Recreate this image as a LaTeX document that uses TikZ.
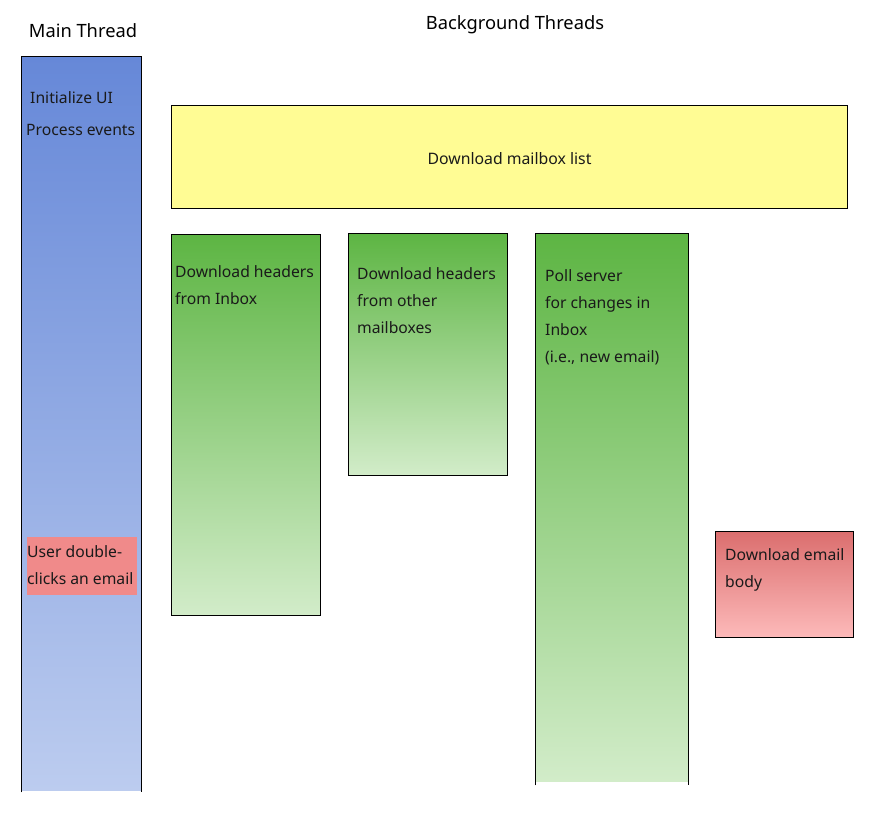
\documentclass[tikz,border=0pt]{standalone}
\usepackage{fontspec}
\setmainfont{Noto Sans}
\usepackage{xcolor}
\usetikzlibrary{positioning,calc}
\definecolor{mainTop}{HTML}{6688D8}
\definecolor{mainBot}{HTML}{BCCCEF}
\definecolor{workTop}{HTML}{5DB543}
\definecolor{workBot}{HTML}{D2ECC9}
\definecolor{listFill}{HTML}{FFFC94}
\definecolor{bodyTop}{HTML}{DB6E6E}
\definecolor{bodyBot}{HTML}{FDBABA}
\definecolor{clickFill}{HTML}{F08A8A}
\definecolor{ink}{HTML}{1A1A1A}
\tikzset{
  lane/.style={draw=none, inner sep=0pt, anchor=north west},
  box/.style={draw=black, line width=1pt, inner sep=0pt, anchor=north west},
  edge/.style={draw=black, line width=1pt},
  txt/.style={text=ink, font=\fontsize{15.7}{27}\selectfont, align=left, inner sep=0pt, anchor=north west},
  head/.style={text=black, font=\fontsize{18.3}{20}\selectfont, inner sep=0pt},
}
\begin{document}
\begin{tikzpicture}[x=1pt, y=-1pt]
  \useasboundingbox (0,0) rectangle (880,816);
  % headings
  \node[head] (mainhead) at (83,31) {Main Thread};
  \node[head] (bghead) at (515,25) {Background Threads};
  % main thread lane, open at the bottom
  \node[lane, top color=mainTop, bottom color=mainBot,
        minimum width=120, minimum height=733] (main) at (21,57) {};
  \draw[edge] ($(main.south west)+(0,2)$) -- (main.north west) -- (main.north east) -- ($(main.south east)+(0,2)$);
  \node[txt] (init) at (30,91) {Initialize UI};
  \node[txt] (events) at (26,124) {Process events};
  \node[lane, fill=clickFill, minimum width=110, minimum height=58] (click) at (27,537) {};
  \node[txt] (clicktxt) at (27,545) {User double-\\clicks an email};
  % background work
  \node[box, fill=listFill, minimum width=676, minimum height=103] (list) at (171,105) {};
  \node[text=ink, font=\fontsize{15.8}{27}\selectfont, inner sep=0pt] (listtxt) at ($(list.center)+(0,2)$) {Download mailbox list};
  \node[box, top color=workTop, bottom color=workBot,
        minimum width=149, minimum height=381] (inbox) at (171,234) {};
  \node[txt] (inboxtxt) at (175,265) {Download headers\\from Inbox};
  \node[box, top color=workTop, bottom color=workBot,
        minimum width=159, minimum height=242] (other) at (348,233) {};
  \node[txt] (othertxt) at (357,267) {Download headers\\from other\\mailboxes};
  % polling lane, open at the bottom
  \node[lane, top color=workTop, bottom color=workBot,
        minimum width=153, minimum height=548] (poll) at (535,233) {};
  \draw[edge] ($(poll.south west)+(0,4)$) -- (poll.north west) -- (poll.north east) -- ($(poll.south east)+(0,4)$);
  \node[txt] (polltxt) at (545,269) {Poll server\\for changes in\\Inbox\\(i.e., new email)};
  \node[box, top color=bodyTop, bottom color=bodyBot,
        minimum width=138, minimum height=106] (body) at (715,531) {};
  \node[txt] (bodytxt) at (725,548) {Download email\\body};
\end{tikzpicture}
\end{document}
